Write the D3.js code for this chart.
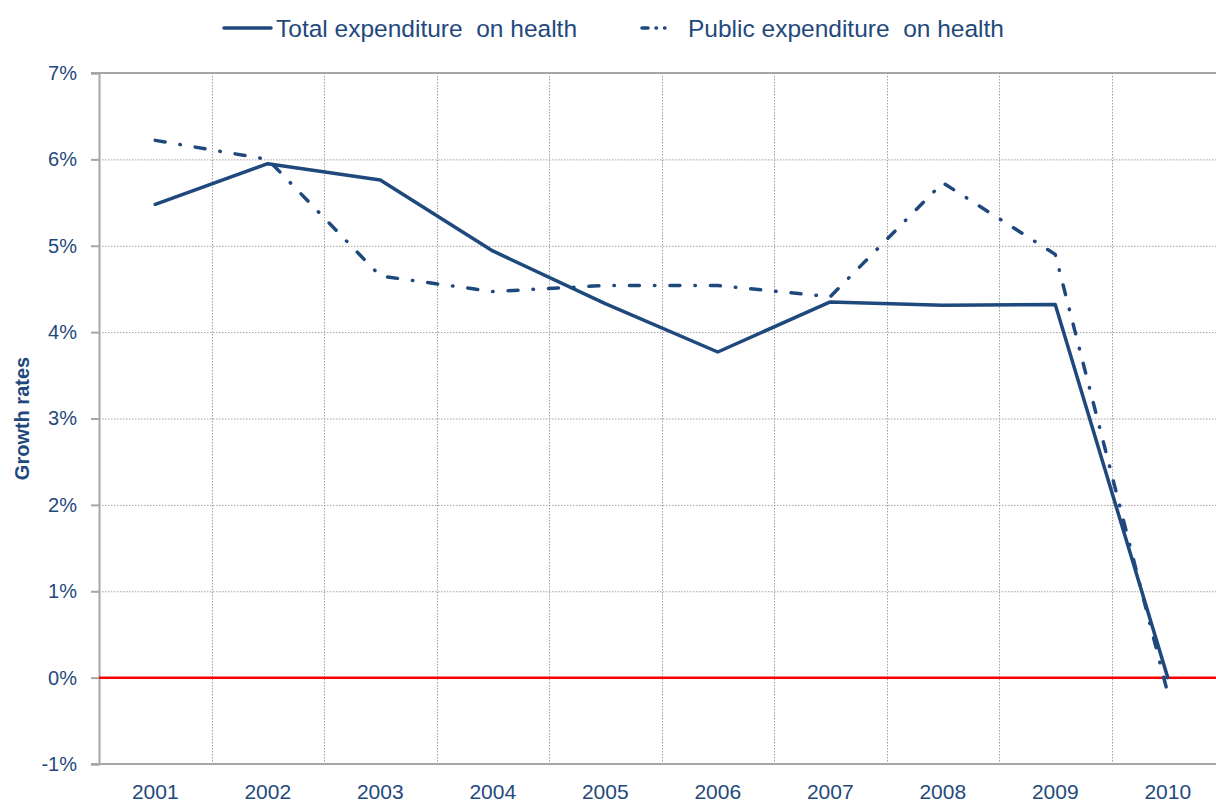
<!DOCTYPE html>
<html>
<head>
<meta charset="utf-8">
<script src="https://cdn.jsdelivr.net/npm/d3@7"></script>
<style>
  html, body { margin: 0; padding: 0; background: #fff; }
  #chart { width: 1216px; height: 805px; overflow: hidden; }
  text { font-family: "Liberation Sans", Arial, sans-serif; }
</style>
</head>
<body>
<div id="chart"></div>
<script>
// Health expenditure growth rates
const years = ['2001', '2002', '2003', '2004', '2005', '2006', '2007', '2008', '2009', '2010'];
const totalGrowth = [5.48, 5.95, 5.76, 4.94, 4.33, 3.77, 4.35, 4.31, 4.32, 0.0];
const publicGrowth = [6.22, 6.0, 4.65, 4.47, 4.54, 4.54, 4.41, 5.73, 4.9, -0.18];
const yTicks = [-1, 0, 1, 2, 3, 4, 5, 6, 7];
const seriesNames = ['Total expenditure  on health', 'Public expenditure  on health'];

const width = 1216;
const height = 805;
const margin = { top: 73, right: -8, bottom: 41, left: 99 };
const blue = '#1f497d';
const axisGray = '#a6a6a6';
const gridGray = '#a0a0a0';

const svg = d3.select('#chart').append('svg')
    .attr('width', width)
    .attr('height', height);

const x = d3.scaleBand()
    .domain(years)
    .range([margin.left, width - margin.right]);

const y = d3.scaleLinear()
    .domain([-1, 7])
    .range([height - margin.bottom, margin.top]);

// horizontal grid (dotted)
svg.append('g')
    .selectAll('line')
    .data(yTicks.filter(d => d > -1 && d < 7))
    .join('line')
    .attr('x1', margin.left)
    .attr('x2', width)
    .attr('y1', d => y(d) + 0.5)
    .attr('y2', d => y(d) + 0.5)
    .attr('stroke', gridGray)
    .attr('stroke-width', 1)
    .attr('stroke-dasharray', '1.5,1.5');

// vertical grid between categories
svg.append('g')
    .selectAll('line')
    .data(years.slice(1))
    .join('line')
    .attr('x1', d => Math.round(x(d)) + 0.5)
    .attr('x2', d => Math.round(x(d)) + 0.5)
    .attr('y1', margin.top)
    .attr('y2', y(-1))
    .attr('stroke', gridGray)
    .attr('stroke-width', 1)
    .attr('stroke-dasharray', '1.5,1.5');

// top border at 7%
svg.append('line')
    .attr('x1', margin.left - 8)
    .attr('x2', width)
    .attr('y1', y(7))
    .attr('y2', y(7))
    .attr('stroke', axisGray)
    .attr('stroke-width', 2);

// y axis
const yAxis = d3.axisLeft(y)
    .tickValues(yTicks)
    .tickSize(8)
    .tickPadding(14)
    .tickFormat(d => d + '%');

const yAxisG = svg.append('g')
    .attr('transform', `translate(${margin.left},0)`)
    .call(yAxis);
yAxisG.select('.domain').attr('stroke', axisGray).attr('stroke-width', 2);
yAxisG.selectAll('.tick line').attr('stroke', axisGray).attr('stroke-width', 2);
yAxisG.selectAll('.tick text')
    .attr('fill', blue)
    .attr('font-size', 20)
    .attr('font-family', '"Liberation Sans", Arial, sans-serif');

// x axis
const xAxis = d3.axisBottom(x).tickSize(0).tickPadding(20);
const xAxisG = svg.append('g')
    .attr('transform', `translate(0,${y(-1)})`)
    .call(xAxis);
xAxisG.select('.domain').remove();
xAxisG.append('line')
    .attr('x1', margin.left - 8)
    .attr('x2', width)
    .attr('stroke', axisGray)
    .attr('stroke-width', 2);
xAxisG.selectAll('.tick text')
    .attr('fill', blue)
    .attr('font-size', 21)
    .attr('font-family', '"Liberation Sans", Arial, sans-serif');

// zero line
svg.append('line')
    .attr('x1', margin.left)
    .attr('x2', width)
    .attr('y1', y(0))
    .attr('y2', y(0))
    .attr('stroke', '#ff0000')
    .attr('stroke-width', 2.5);

// axis title
svg.append('text')
    .attr('transform', `translate(29,${y(3)}) rotate(-90)`)
    .attr('text-anchor', 'middle')
    .attr('font-size', 20)
    .attr('font-weight', 'bold')
    .attr('fill', blue)
    .text('Growth rates');

// lines
const line = d3.line()
    .x((d, i) => x(years[i]) + x.bandwidth() / 2)
    .y(d => y(d));

svg.append('path')
    .datum(publicGrowth)
    .attr('d', line)
    .attr('fill', 'none')
    .attr('stroke', blue)
    .attr('stroke-width', 3.5)
    .attr('stroke-linecap', 'round')
    .attr('stroke-linejoin', 'round')
    .attr('stroke-dasharray', '10,15,0.5,15');

svg.append('path')
    .datum(totalGrowth)
    .attr('d', line)
    .attr('fill', 'none')
    .attr('stroke', blue)
    .attr('stroke-width', 3.5)
    .attr('stroke-linecap', 'round')
    .attr('stroke-linejoin', 'round');

// legend
const legend = svg.append('g');
legend.append('line')
    .attr('x1', 224).attr('x2', 271)
    .attr('y1', 28).attr('y2', 28)
    .attr('stroke', blue)
    .attr('stroke-width', 3.5)
    .attr('stroke-linecap', 'round');
legend.append('text')
    .attr('x', 276)
    .attr('y', 28)
    .attr('dy', '0.35em')
    .attr('font-size', 24.5)
    .attr('fill', blue)
    .style('white-space', 'pre')
    .text(seriesNames[0]);

legend.append('line')
    .attr('x1', 642).attr('x2', 686)
    .attr('y1', 28).attr('y2', 28)
    .attr('stroke', blue)
    .attr('stroke-width', 3.5)
    .attr('stroke-linecap', 'round')
    .attr('stroke-dasharray', '6,8,0.5,8,0.5,30');
legend.append('text')
    .attr('x', 688)
    .attr('y', 28)
    .attr('dy', '0.35em')
    .attr('font-size', 24.5)
    .attr('fill', blue)
    .style('white-space', 'pre')
    .text(seriesNames[1]);
</script>
</body>
</html>
